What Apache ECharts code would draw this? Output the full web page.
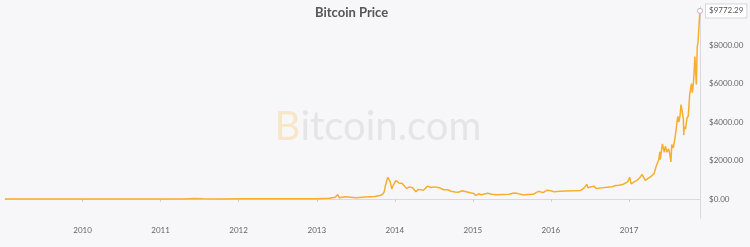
<!DOCTYPE html>
<html>
<head>
<meta charset="utf-8">
<script src="https://cdn.jsdelivr.net/npm/echarts@6/dist/echarts.min.js"></script>
<style>
html,body{margin:0;padding:0;background:#f7f7f9;}
#chart{width:750px;height:247px;}
</style>
</head>
<body>
<div id="chart"></div>
<script>
var titleText = 'Bitcoin Price';
var dates = [
'2009-01-03','2010-07-18','2010-11-06','2011-02-10','2011-04-20','2011-06-08','2011-07-15','2011-10-20',
'2012-01-10','2012-06-15','2012-08-16','2012-12-31','2013-02-28','2013-03-28','2013-04-09','2013-04-16',
'2013-05-15','2013-07-05','2013-08-15','2013-10-01','2013-11-01','2013-11-12','2013-11-18','2013-11-29',
'2013-12-05','2013-12-10','2013-12-18','2013-12-23','2014-01-06','2014-01-20','2014-02-05','2014-02-25',
'2014-03-10','2014-03-25','2014-04-10','2014-04-20','2014-05-15','2014-06-03','2014-06-20','2014-07-05',
'2014-07-28','2014-08-18','2014-09-05','2014-09-22','2014-10-10','2014-10-25','2014-11-12','2014-12-01',
'2014-12-20','2015-01-06','2015-01-14','2015-01-27','2015-02-10','2015-03-11','2015-04-01','2015-04-20',
'2015-05-20','2015-06-20','2015-07-12','2015-08-01','2015-08-24','2015-09-15','2015-10-10','2015-11-04',
'2015-11-11','2015-11-25','2015-12-15','2016-01-01','2016-01-15','2016-02-15','2016-03-10','2016-04-15',
'2016-05-20','2016-06-05','2016-06-17','2016-06-23','2016-07-01','2016-07-20','2016-08-02','2016-08-25',
'2016-09-20','2016-10-15','2016-10-30','2016-11-15','2016-12-05','2016-12-25','2017-01-04','2017-01-11',
'2017-01-25','2017-02-10','2017-02-25','2017-03-03','2017-03-18','2017-03-31','2017-04-15','2017-04-28',
'2017-05-08','2017-05-20','2017-05-25','2017-05-27','2017-06-06','2017-06-11','2017-06-15','2017-06-20',
'2017-06-27','2017-07-05','2017-07-10','2017-07-16','2017-07-20','2017-07-27','2017-08-01','2017-08-05',
'2017-08-12','2017-08-17','2017-08-22','2017-08-28','2017-09-01','2017-09-06','2017-09-12','2017-09-14',
'2017-09-16','2017-09-22','2017-09-29','2017-10-05','2017-10-12','2017-10-16','2017-10-20','2017-10-24',
'2017-10-30','2017-11-05','2017-11-08','2017-11-12','2017-11-16','2017-11-20','2017-11-24','2017-11-26',
'2017-11-29'
];
var prices = [
0,0.05,0.4,1.1,1.2,29,14,2.5,
7,6.5,13.5,13.5,34,90,230,68,
115,68,110,125,205,355,700,1130,
1050,900,520,680,950,830,810,540,
630,580,380,500,450,665,600,630,
590,480,480,400,360,350,430,380,
320,290,180,270,220,295,245,220,
238,245,310,280,210,230,245,400,
310,330,460,432,380,405,415,430,
445,575,760,580,680,670,540,578,
610,640,700,710,765,890,1130,780,
890,990,1170,1280,970,1070,1180,1320,
1700,2040,2450,2050,2860,2950,2430,2750,
2430,2600,2380,1930,2830,2650,2720,3230,
3880,4300,3990,4360,4900,4600,4160,3320,
3740,3630,4190,4320,5450,5720,6000,5520,
6130,7400,7450,5950,7870,8200,8250,9330,
9772.29
];
var yearTicks = ['2010-01-01','2011-01-01','2012-01-01','2013-01-01','2014-01-01','2015-01-01','2016-01-01','2017-01-01'];
var priceTicks = [0, 2000, 4000, 6000, 8000];
var watermarkMark = 'B';
var watermarkText = 'itcoin.com';

function ts(d) { return Date.UTC(+d.slice(0, 4), +d.slice(5, 7) - 1, +d.slice(8, 10)); }
var seriesData = dates.map(function (d, i) { return [ts(d), prices[i]]; });
var yearTickValues = yearTicks.map(ts);

var chart = echarts.init(document.getElementById('chart'));
chart.setOption({
  backgroundColor: '#f7f7f9',
  animation: false,
  title: {
    text: titleText,
    left: 315,
    top: 6,
    padding: 0,
    textStyle: { fontFamily: 'Lato', fontSize: 13, fontWeight: 'bold', color: '#555555' }
  },
  graphic: [{
    type: 'text',
    x: 378,
    y: 127,
    z: -10,
    silent: true,
    style: {
      text: '{b|' + watermarkMark + '}{r|' + watermarkText + '}',
      align: 'center',
      verticalAlign: 'middle',
      rich: {
        b: { fontFamily: 'Lato', fontSize: 40, fontWeight: 'normal', fill: '#f8e7c6' },
        r: { fontFamily: 'Lato', fontSize: 40, fontWeight: 'normal', fill: '#e5e5e8' }
      }
    }
  }],
  grid: { left: 5, right: 50, top: 6.5, bottom: 28.75, containLabel: false },
  xAxis: {
    type: 'value',
    min: 'dataMin',
    max: 'dataMax',
    splitLine: { show: false },
    axisLine: { show: true, lineStyle: { color: '#d9d9de', width: 1 } },
    axisTick: { show: true, length: 3, lineStyle: { color: '#d0d0d6' }, customValues: yearTickValues },
    axisLabel: {
      customValues: yearTickValues,
      margin: 8,
      fontFamily: 'Lato',
      fontSize: 8,
      color: '#666666',
      formatter: function (v) { return String(new Date(v).getUTCFullYear()); }
    }
  },
  yAxis: {
    type: 'value',
    position: 'right',
    min: -1000,
    max: 10000,
    splitLine: { show: false },
    axisLine: { show: true, lineStyle: { color: '#d9d9de', width: 1 } },
    axisTick: { show: false },
    axisLabel: {
      customValues: priceTicks,
      margin: 9,
      fontFamily: 'Lato',
      fontSize: 8,
      color: '#666666',
      formatter: function (v) { return '$' + v.toFixed(2); }
    }
  },
  series: [{
    type: 'line',
    data: seriesData,
    showSymbol: false,
    symbol: 'none',
    lineStyle: { color: '#f6ae2d', width: 1.5 },
    itemStyle: { color: '#f6ae2d' },
    markPoint: {
      symbol: 'circle',
      symbolSize: 5,
      silent: true,
      itemStyle: { color: '#ffffff', borderColor: '#b8b8c0', borderWidth: 1 },
      label: { show: false },
      data: [{ type: 'max' }]
    },
    endLabel: {
      show: true,
      distance: 6,
      formatter: function (p) { return '$' + p.value[1].toFixed(2); },
      fontFamily: 'Lato',
      fontSize: 8,
      color: '#555555',
      backgroundColor: '#ffffff',
      borderColor: '#d6d6dc',
      borderWidth: 1,
      padding: [3, 3, 2, 3]
    }
  }]
});
</script>
</body>
</html>
